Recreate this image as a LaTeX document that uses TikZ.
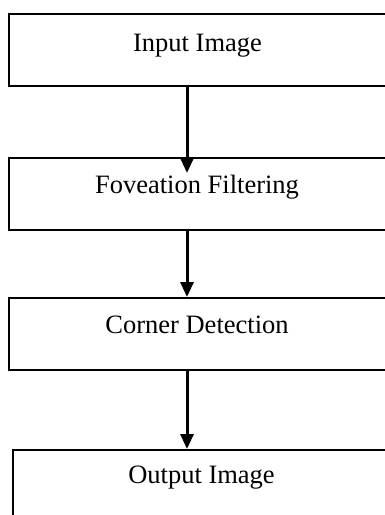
\documentclass[tikz,border=0pt]{standalone}
\usepackage{fontspec}
\setmainfont{Liberation Serif}
\usetikzlibrary{arrows.meta}
\begin{document}
\begin{tikzpicture}[x=1pt,y=1pt,
  stagebox/.style={draw=black, line width=1.9pt, rectangle, anchor=north west,
    inner sep=0pt, minimum height=72pt, minimum width=379pt},
  stagetext/.style={anchor=base, font=\fontsize{26.5}{30}\selectfont, inner sep=0pt},
  flow/.style={line width=3pt, -{Triangle[width=13pt,length=15pt]}}]
  \useasboundingbox (0,0) rectangle (385,-515);
  \clip (0,0) rectangle (385,-515);
  % processing stages
  \node[stagebox] (b1) at (8,-13) {};
  \node[stagebox] (b2) at (8,-157) {};
  \node[stagebox] (b3) at (8,-297) {};
  \node[stagebox] (b4) at (12,-449) {};
  % stage captions
  \node[stagetext] (t1) at (197.5,-51) {Input Image};
  \node[stagetext] (t2) at (197,-193) {Foveation Filtering};
  \node[stagetext] (t3) at (197,-333) {Corner Detection};
  \node[stagetext] (t4) at (201.5,-483) {Output Image};
  % arrow ends
  \coordinate (a1) at (187,-173);
  \coordinate (a2) at (187,-297);
  \coordinate (a3) at (187,-449);
  \draw[flow] (b1.south west -| a1) -- (a1);
  \draw[flow] (b2.south west -| a2) -- (a2);
  \draw[flow] (b3.south west -| a3) -- (a3);
\end{tikzpicture}
\end{document}
